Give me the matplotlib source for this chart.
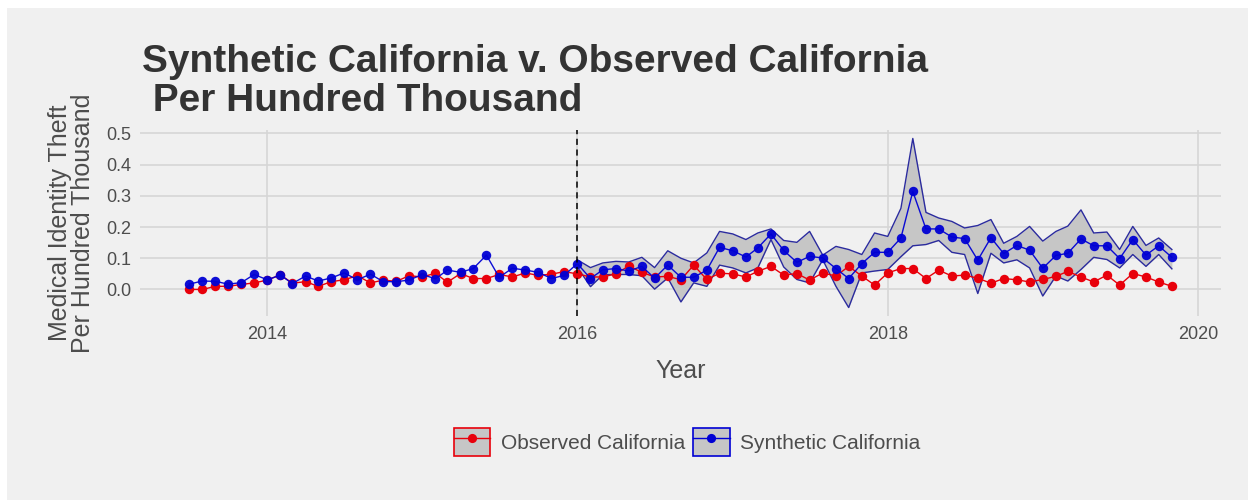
import numpy as np
import pandas as pd
import matplotlib
matplotlib.use("Agg")
import matplotlib.pyplot as plt
import matplotlib.dates as mdates
from matplotlib.patches import Patch, Rectangle
from matplotlib.lines import Line2D
from matplotlib.legend_handler import HandlerTuple

plt.rcParams["font.family"] = ["Liberation Sans", "DejaVu Sans"]

# Monthly series, July 2013 - November 2019 (rate per 100,000)
months = pd.date_range("2013-07-01", "2019-11-01", freq="MS")

observed = [
    0.000, 0.000, 0.010, 0.010, 0.016, 0.021, 0.030, 0.047, 0.020, 0.025,
    0.010, 0.025, 0.031, 0.044, 0.021, 0.030, 0.026, 0.044, 0.040, 0.052,
    0.023, 0.051, 0.035, 0.035, 0.048, 0.040, 0.053, 0.045, 0.049, 0.057,
    0.050, 0.040, 0.040, 0.050, 0.075, 0.055, 0.040, 0.042, 0.031, 0.078,
    0.032, 0.052, 0.050, 0.040, 0.058, 0.074, 0.046, 0.051, 0.030, 0.053,
    0.043, 0.074, 0.043, 0.014, 0.053, 0.067, 0.067, 0.035, 0.062, 0.043,
    0.046, 0.036, 0.020, 0.035, 0.031, 0.024, 0.032, 0.042, 0.058, 0.040,
    0.024, 0.046, 0.014, 0.051, 0.040, 0.024, 0.010,
]

synthetic = [
    0.017, 0.027, 0.026, 0.017, 0.022, 0.048, 0.031, 0.046, 0.019, 0.043,
    0.027, 0.037, 0.053, 0.031, 0.049, 0.025, 0.025, 0.030, 0.048, 0.034,
    0.062, 0.055, 0.067, 0.110, 0.039, 0.068, 0.062, 0.055, 0.035, 0.045,
    0.083, 0.035, 0.063, 0.067, 0.059, 0.074, 0.036, 0.078, 0.039, 0.039,
    0.062, 0.135, 0.124, 0.104, 0.133, 0.178, 0.125, 0.087, 0.106, 0.101,
    0.067, 0.035, 0.083, 0.119, 0.119, 0.165, 0.314, 0.194, 0.194, 0.168,
    0.163, 0.094, 0.166, 0.115, 0.141, 0.126, 0.068, 0.109, 0.116, 0.162,
    0.140, 0.140, 0.099, 0.160, 0.110, 0.140, 0.103,
]

# Interval around the synthetic estimate, from January 2016 on
band_months = pd.date_range("2016-01-01", "2019-11-01", freq="MS")
band_upper = [
    0.095, 0.070, 0.085, 0.090, 0.088, 0.103, 0.070, 0.124, 0.100, 0.085,
    0.117, 0.186, 0.178, 0.160, 0.181, 0.194, 0.157, 0.151, 0.186, 0.110,
    0.138, 0.128, 0.112, 0.181, 0.170, 0.260, 0.484, 0.247, 0.229, 0.218,
    0.197, 0.205, 0.224, 0.148, 0.170, 0.202, 0.155, 0.186, 0.203, 0.255,
    0.181, 0.184, 0.128, 0.202, 0.141, 0.165, 0.128,
]
band_lower = [
    0.072, 0.009, 0.047, 0.048, 0.048, 0.044, 0.001, 0.037, -0.040, 0.021,
    0.010, 0.078, 0.069, 0.053, 0.069, 0.160, 0.072, 0.032, 0.021, 0.095,
    0.010, -0.058, 0.053, 0.059, 0.064, 0.105, 0.140, 0.144, 0.157, 0.119,
    0.112, -0.013, 0.116, 0.085, 0.095, 0.069, -0.021, 0.043, 0.027, 0.064,
    0.103, 0.096, 0.069, 0.112, 0.074, 0.112, 0.066,
]

intervention = pd.Timestamp("2016-01-01")
year_ticks = ["2014", "2016", "2018", "2020"]
y_ticks = [0.0, 0.1, 0.2, 0.3, 0.4, 0.5]

BG = "#f0f0f0"
GRID = "#d6d6d6"
TXT = "#4d4d4d"
RED = "#e8000b"
BLUE = "#0000d4"
RIBBON_EDGE = "#2b2b9e"
RIBBON_FILL = "#c6c6c6"

fig = plt.figure(figsize=(12.48, 5.0), dpi=100, facecolor="white")
# grey page with a thin white margin at the left and top
fig.patches.append(Rectangle((7 / 1248, 0), 1 - 7 / 1248, 1 - 8 / 500,
                             transform=fig.transFigure, facecolor=BG,
                             edgecolor="none", zorder=-10))

ax = fig.add_axes([140 / 1248, 1 - 316 / 500, (1221 - 140) / 1248, (316 - 130) / 500])
ax.set_facecolor(BG)

ax.fill_between(band_months, band_lower, band_upper, color=RIBBON_FILL, lw=0, zorder=2)
ax.plot(band_months, band_upper, color=RIBBON_EDGE, lw=1.0, zorder=3)
ax.plot(band_months, band_lower, color=RIBBON_EDGE, lw=1.0, zorder=3)

ax.plot(months, observed, color=RED, lw=1.0, marker="o", ms=6.8, mec="none", zorder=4)
ax.plot(months, synthetic, color=BLUE, lw=1.0, marker="o", ms=6.8, mec="none", zorder=5, alpha=0.95)

ax.axvline(intervention, color="black", lw=1.1, ls=(0, (4, 3)), zorder=6)

# ggplot-like 5% expansion of the data range
x0 = mdates.date2num(months[0])
x1 = mdates.date2num(months[-1])
dx = (x1 - x0) * 0.05
ax.set_xlim(x0 - dx, x1 + dx)
ylo = min(min(band_lower), min(observed), min(synthetic))
yhi = max(max(band_upper), max(observed), max(synthetic))
dy = (yhi - ylo) * 0.05
ax.set_ylim(ylo - dy, yhi + dy)

ax.set_xticks([mdates.date2num(pd.Timestamp(f"{y}-01-01")) for y in year_ticks])
ax.set_xticklabels(year_ticks)
ax.set_yticks(y_ticks)
ax.set_yticklabels([f"{v:.1f}" for v in y_ticks])
ax.tick_params(length=0, labelsize=13, labelcolor=TXT)
ax.tick_params(axis="x", pad=7)
ax.tick_params(axis="y", pad=6)
ax.grid(True, color=GRID, lw=1.2)
ax.set_axisbelow(True)
for s in ax.spines.values():
    s.set_visible(False)

ax.set_xlabel("Year", fontsize=18, color=TXT, labelpad=12)
ax.set_ylabel("Medical Identity Theft\nPer Hundred Thousand", fontsize=18, color=TXT,
              labelpad=8, linespacing=0.95)

fig.text(142 / 1248, 1 - 44 / 500,
         "Synthetic California v. Observed California\n Per Hundred Thousand",
         fontsize=28, fontweight="bold", color="#333333", ha="left", va="top",
         linespacing=1.12)

h_obs = (Patch(facecolor=RIBBON_FILL, edgecolor=RED, lw=1.2),
         Line2D([], [], color=RED, lw=1.0, marker="o", ms=6.6, mec="none"))
h_syn = (Patch(facecolor=RIBBON_FILL, edgecolor=BLUE, lw=1.2),
         Line2D([], [], color=BLUE, lw=1.0, marker="o", ms=6.6, mec="none"))
fig.legend([h_obs, h_syn], ["Observed California", "Synthetic California"],
           handler_map={tuple: HandlerTuple(ndivide=1, pad=0)},
           loc="center", bbox_to_anchor=(687 / 1248, 1 - 442 / 500), ncol=2,
           frameon=False, fontsize=15, labelcolor=TXT,
           handlelength=1.75, handleheight=1.75, handletextpad=0.5, columnspacing=0.4)

fig.savefig("out.png", dpi=100, facecolor="white")
